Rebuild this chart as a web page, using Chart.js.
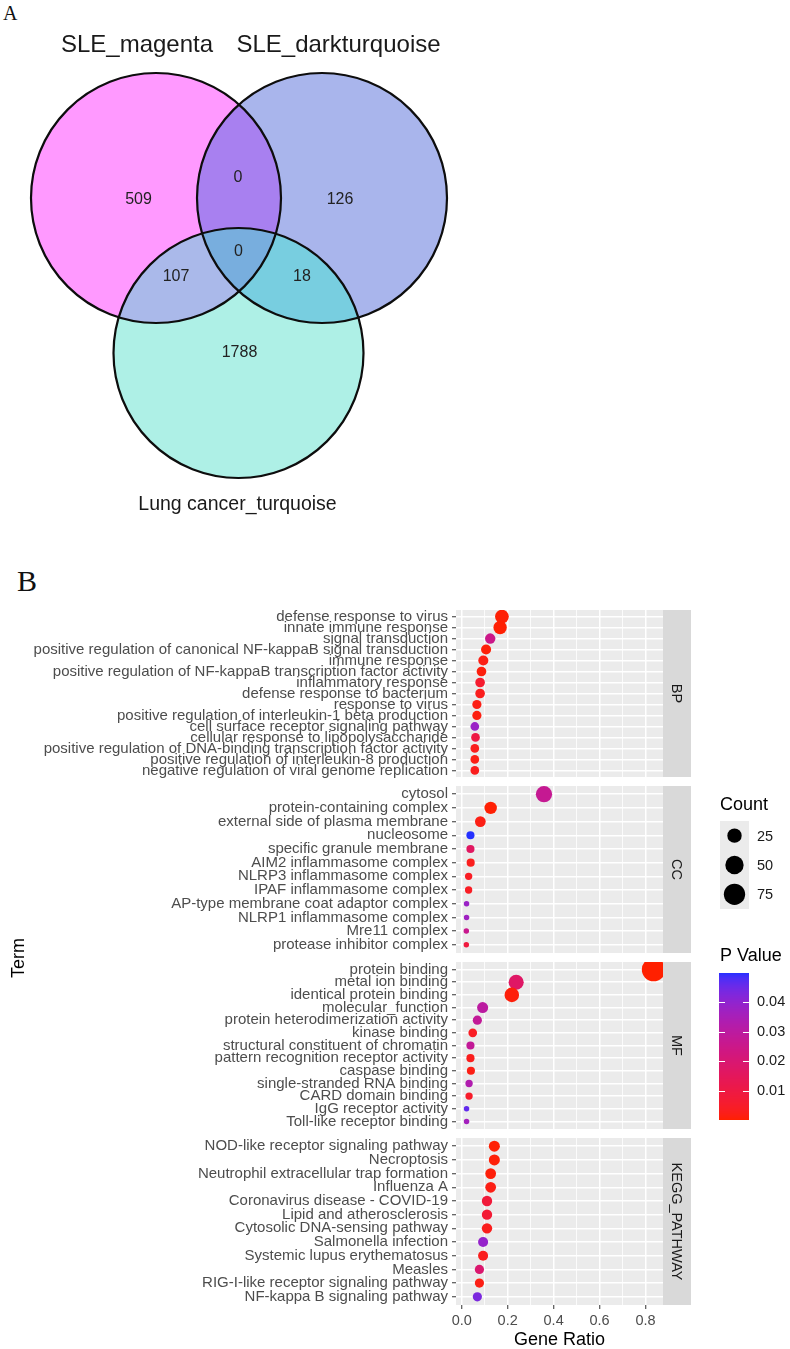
<!DOCTYPE html>
<html>
<head>
<meta charset="utf-8">
<script src="https://cdn.jsdelivr.net/npm/chart.js@4.4.1/dist/chart.umd.min.js"></script>
<style>
html, body { margin: 0; padding: 0; background: #fff; }
body { width: 790px; height: 1349px; position: relative; overflow: hidden; }
canvas { position: absolute; }
.tag { position: absolute; font-family: 'Liberation Serif', 'Times New Roman', serif; color: #111; line-height: 1; }
</style>
</head>
<body>
<div class="tag" style="left:3px; top:3px; font-size:20px;">A</div>
<div class="tag" style="left:17px; top:566px; font-size:30px;">B</div>
<canvas id="venn" width="480" height="530" style="left:0; top:0;"></canvas>
<canvas id="facetBP" width="700" height="207" style="left:0; top:590px;"></canvas>
<canvas id="facetCC" width="700" height="207" style="left:0; top:766px;"></canvas>
<canvas id="facetMF" width="700" height="207" style="left:0; top:942px;"></canvas>
<canvas id="facetKEGG" width="700" height="231" style="left:0; top:1118px;"></canvas>
<canvas id="guides" width="790" height="350" style="left:0; top:780px;"></canvas>
<script>
// ===== Panel A: Venn =====
const vennSets = ['SLE_magenta', 'SLE_darkturquoise', 'Lung cancer_turquoise'];
const vennRegions = ['magenta only', 'magenta & darkturquoise', 'darkturquoise only', 'all three',
                     'magenta & turquoise', 'darkturquoise & turquoise', 'turquoise only'];
const vennCounts = [509, 0, 126, 0, 107, 18, 1788];

// ===== Panel B: enrichment dot plot =====
const bpTerms = [
    'defense response to virus', 'innate immune response', 'signal transduction',
    'positive regulation of canonical NF-kappaB signal transduction', 'immune response',
    'positive regulation of NF-kappaB transcription factor activity', 'inflammatory response',
    'defense response to bacterium', 'response to virus',
    'positive regulation of interleukin-1 beta production', 'cell surface receptor signaling pathway',
    'cellular response to lipopolysaccharide',
    'positive regulation of DNA-binding transcription factor activity',
    'positive regulation of interleukin-8 production', 'negative regulation of viral genome replication'
];
const bpRatio = [0.175, 0.167, 0.124, 0.106, 0.094, 0.086, 0.080, 0.080, 0.066, 0.066, 0.057, 0.060, 0.057, 0.057, 0.057];
const bpCount = [22, 20, 9, 8, 8, 7, 7, 7, 6, 6, 5, 5, 5, 5, 5];
const bpPval = [0.0006, 0.0004, 0.025, 0.0008, 0.002, 0.0012, 0.006, 0.003, 0.002, 0.0015, 0.038, 0.010, 0.003, 0.002, 0.003];

const ccTerms = [
    'cytosol', 'protein-containing complex', 'external side of plasma membrane', 'nucleosome',
    'specific granule membrane', 'AIM2 inflammasome complex', 'NLRP3 inflammasome complex',
    'IPAF inflammasome complex', 'AP-type membrane coat adaptor complex', 'NLRP1 inflammasome complex',
    'Mre11 complex', 'protease inhibitor complex'
];
const ccRatio = [0.358, 0.126, 0.081, 0.038, 0.038, 0.039, 0.030, 0.030, 0.021, 0.021, 0.020, 0.020];
const ccCount = [36, 16, 10, 4, 4, 4, 3, 3, 2, 2, 2, 2];
const ccPval = [0.027, 0.0005, 0.002, 0.0497, 0.016, 0.003, 0.004, 0.004, 0.038, 0.037, 0.026, 0.009];

const mfTerms = [
    'protein binding', 'metal ion binding', 'identical protein binding', 'molecular_function',
    'protein heterodimerization activity', 'kinase binding', 'structural constituent of chromatin',
    'pattern recognition receptor activity', 'caspase binding', 'single-stranded RNA binding',
    'CARD domain binding', 'IgG receptor activity', 'Toll-like receptor binding'
];
const mfRatio = [0.835, 0.237, 0.218, 0.091, 0.068, 0.048, 0.038, 0.038, 0.040, 0.032, 0.032, 0.021, 0.021];
const mfCount = [97, 29, 26, 11, 6, 5, 4, 4, 4, 3, 3, 2, 2];
const mfPval = [0.0002, 0.017, 0.001, 0.030, 0.028, 0.004, 0.028, 0.003, 0.002, 0.033, 0.005, 0.046, 0.036];

const keggTerms = [
    'NOD-like receptor signaling pathway', 'Necroptosis', 'Neutrophil extracellular trap formation',
    'Influenza A', 'Coronavirus disease - COVID-19', 'Lipid and atherosclerosis',
    'Cytosolic DNA-sensing pathway', 'Salmonella infection', 'Systemic lupus erythematosus',
    'Measles', 'RIG-I-like receptor signaling pathway', 'NF-kappa B signaling pathway'
];
const keggRatio = [0.142, 0.142, 0.126, 0.126, 0.110, 0.110, 0.110, 0.093, 0.093, 0.077, 0.077, 0.068];
const keggCount = [11, 11, 10, 10, 9, 9, 9, 8, 8, 6, 6, 6];
const keggPval = [0.0005, 0.0008, 0.001, 0.002, 0.008, 0.007, 0.003, 0.039, 0.003, 0.019, 0.002, 0.043];

const ratioTicks = [0, 0.2, 0.4, 0.6, 0.8];
const countBreaks = [25, 50, 75];
const pBreaks = [0.01, 0.02, 0.03, 0.04];

// ===== styling / helpers =====
const SANS = "'Liberation Sans', Arial, Helvetica, sans-serif";
const X_MIN = -0.0249, X_MAX = 0.876;

const allP = [...bpPval, ...ccPval, ...mfPval, ...keggPval];
const allCount = [...bpCount, ...ccCount, ...mfCount, ...keggCount];
const pLow = Math.min(...allP), pHigh = Math.max(...allP);
const cLow = Math.min(...allCount);

function dotRadius(c) {
    return 2.75 + 0.925 * Math.sqrt(Math.max(c - cLow, 0));
}

// red -> blue gradient interpolated in CIELAB (like ggplot)
function toLin(c) { c /= 255; return c <= 0.04045 ? c / 12.92 : Math.pow((c + 0.055) / 1.055, 2.4); }
function fromLin(c) {
    const v = c <= 0.0031308 ? 12.92 * c : 1.055 * Math.pow(c, 1 / 2.4) - 0.055;
    return Math.round(Math.max(0, Math.min(1, v)) * 255);
}
function rgbToLab(rgb) {
    const [R, G, B] = rgb.map(toLin);
    const X = (0.4124 * R + 0.3576 * G + 0.1805 * B) / 0.95047;
    const Y = 0.2126 * R + 0.7152 * G + 0.0722 * B;
    const Z = (0.0193 * R + 0.1192 * G + 0.9505 * B) / 1.08883;
    const f = t => t > 0.008856 ? Math.cbrt(t) : 7.787 * t + 16 / 116;
    const fx = f(X), fy = f(Y), fz = f(Z);
    return [116 * fy - 16, 500 * (fx - fy), 200 * (fy - fz)];
}
function labToRgb([L, a, b]) {
    const fy = (L + 16) / 116, fx = a / 500 + fy, fz = fy - b / 200;
    const inv = t => t * t * t > 0.008856 ? t * t * t : (t - 16 / 116) / 7.787;
    const X = inv(fx) * 0.95047, Y = inv(fy), Z = inv(fz) * 1.08883;
    return [
        fromLin(3.2406 * X - 1.5372 * Y - 0.4986 * Z),
        fromLin(-0.9689 * X + 1.8758 * Y + 0.0415 * Z),
        fromLin(0.0557 * X - 0.2040 * Y + 1.0570 * Z)
    ];
}
const labLow = rgbToLab([255, 32, 0]);
const labHigh = rgbToLab([36, 48, 255]);
function pColor(p) {
    const t = Math.max(0, Math.min(1, (p - pLow) / (pHigh - pLow)));
    const [r, g, b] = labToRgb(labLow.map((v, i) => v + (labHigh[i] - v) * t));
    return `rgb(${r},${g},${b})`;
}
function isMajor(v) { return ratioTicks.some(t => Math.abs(t - v) < 1e-6); }

// minor grid at the midpoints of the major breaks
const xGridValues = [];
ratioTicks.forEach((t, i) => {
    xGridValues.push(t);
    if (i < ratioTicks.length - 1) xGridValues.push((t + ratioTicks[i + 1]) / 2);
});

// ===== plugins =====
const panelBg = {
    id: 'panelBg',
    beforeDraw(chart) {
        const { ctx, chartArea: a } = chart;
        ctx.save();
        ctx.fillStyle = '#ebebeb';
        ctx.fillRect(a.left, a.top, a.right - a.left, a.bottom - a.top);
        ctx.restore();
    }
};

const facetStrip = {
    id: 'facetStrip',
    afterDraw(chart, args, opts) {
        const { ctx, chartArea: a } = chart;
        ctx.save();
        ctx.fillStyle = '#d9d9d9';
        ctx.fillRect(a.right, a.top, 28, a.bottom - a.top);
        ctx.translate(a.right + 14, (a.top + a.bottom) / 2);
        ctx.rotate(Math.PI / 2);
        ctx.fillStyle = '#1a1a1a';
        ctx.font = '14.5px ' + SANS;
        ctx.textAlign = 'center';
        ctx.textBaseline = 'middle';
        ctx.fillText(opts.label, 0, 1);
        ctx.restore();
    }
};

function makeFacet(id, strip, terms, ratio, count, pval, bottom) {
    const n = terms.length;
    return new Chart(document.getElementById(id), {
        type: 'scatter',
        data: {
            datasets: [{
                data: terms.map((t, i) => ({ x: ratio[i], y: i })),
                pointRadius: count.map(dotRadius),
                pointBackgroundColor: pval.map(pColor),
                pointBorderWidth: 0,
                pointBorderColor: 'rgba(0,0,0,0)',
                clip: 0
            }]
        },
        options: {
            responsive: false,
            animation: false,
            events: [],
            layout: { padding: { top: 20, bottom: bottom ? 0 : 20, left: 0, right: 37 } },
            plugins: {
                legend: { display: false },
                tooltip: { enabled: false },
                facetStrip: { label: strip }
            },
            scales: {
                x: {
                    type: 'linear', min: X_MIN, max: X_MAX,
                    afterBuildTicks: s => { s.ticks = xGridValues.map(v => ({ value: v })); },
                    afterFit: s => { s.height = bottom ? 44 : 0; },
                    border: { display: false },
                    grid: {
                        color: '#ffffff',
                        lineWidth: c => isMajor(c.tick.value) ? 1.5 : 0.8,
                        drawTicks: bottom,
                        tickLength: 4,
                        tickWidth: 1,
                        tickColor: c => isMajor(c.tick.value) ? '#333333' : 'rgba(0,0,0,0)'
                    },
                    ticks: {
                        display: bottom, autoSkip: false, maxRotation: 0, padding: 3,
                        color: '#4d4d4d', font: { family: SANS, size: 14.5 },
                        callback: v => isMajor(v) ? v.toFixed(1) : ''
                    },
                    title: {
                        display: bottom, text: 'Gene Ratio', color: '#000',
                        font: { family: SANS, size: 18, lineHeight: 1 }, padding: 0
                    }
                },
                y: {
                    type: 'linear', reverse: true, min: -0.6, max: n - 0.4,
                    afterBuildTicks: s => { s.ticks = terms.map((t, i) => ({ value: i })); },
                    afterFit: s => { s.width = 456; },
                    border: { display: false },
                    grid: { color: '#ffffff', lineWidth: 1.5, drawTicks: true, tickLength: 4, tickWidth: 1, tickColor: '#333333' },
                    ticks: {
                        autoSkip: false, padding: 4, color: '#4d4d4d',
                        font: { family: SANS, size: 15 },
                        callback: v => terms[v]
                    }
                }
            }
        },
        plugins: [panelBg, facetStrip]
    });
}

makeFacet('facetBP', 'BP', bpTerms, bpRatio, bpCount, bpPval, false);
makeFacet('facetCC', 'CC', ccTerms, ccRatio, ccCount, ccPval, false);
makeFacet('facetMF', 'MF', mfTerms, mfRatio, mfCount, mfPval, false);
makeFacet('facetKEGG', 'KEGG_PATHWAY', keggTerms, keggRatio, keggCount, keggPval, true);

// ===== legends + y title (colour bar uses the chart's own y scale) =====
const guidePlugin = {
    id: 'guides',
    beforeDraw(chart) {
        const { ctx, chartArea: a, scales: { y } } = chart;
        ctx.save();
        // colour bar
        for (let py = Math.floor(a.top); py < a.bottom; py++) {
            ctx.fillStyle = pColor(y.getValueForPixel(py + 0.5));
            ctx.fillRect(a.left, py, a.right - a.left, 1);
        }
        ctx.strokeStyle = '#ffffff';
        ctx.lineWidth = 1;
        pBreaks.forEach(v => {
            const py = Math.round(y.getPixelForValue(v)) + 0.5;
            ctx.beginPath();
            ctx.moveTo(a.left, py); ctx.lineTo(a.left + 6, py);
            ctx.moveTo(a.right - 6, py); ctx.lineTo(a.right, py);
            ctx.stroke();
        });

        ctx.fillStyle = '#000';
        ctx.font = '18px ' + SANS;
        ctx.textAlign = 'left';
        ctx.textBaseline = 'middle';
        ctx.fillText('P Value', 720, 176);
        ctx.fillText('Count', 720, 25);

        // size keys
        ctx.fillStyle = '#ebebeb';
        ctx.fillRect(720, 41, 29, 88);
        countBreaks.forEach((c, i) => {
            const cy = 41 + 29.33 * (i + 0.5);
            ctx.fillStyle = '#000';
            ctx.beginPath();
            ctx.arc(734.5, cy, dotRadius(c), 0, Math.PI * 2);
            ctx.fill();
            ctx.fillStyle = '#1a1a1a';
            ctx.font = '14.5px ' + SANS;
            ctx.fillText(String(c), 757, cy + 1);
        });

        // shared y title
        ctx.translate(19, 178);
        ctx.rotate(-Math.PI / 2);
        ctx.textAlign = 'center';
        ctx.fillStyle = '#000';
        ctx.font = '18px ' + SANS;
        ctx.fillText('Term', 0, 0);
        ctx.restore();
    }
};

new Chart(document.getElementById('guides'), {
    type: 'scatter',
    data: { datasets: [] },
    options: {
        responsive: false,
        animation: false,
        events: [],
        layout: { padding: { left: 719, top: 193, bottom: 10, right: 0 } },
        plugins: { legend: { display: false }, tooltip: { enabled: false } },
        scales: {
            x: { display: false, min: 0, max: 1 },
            y: {
                position: 'right', min: pLow, max: pHigh,
                afterBuildTicks: s => { s.ticks = pBreaks.map(v => ({ value: v })); },
                afterFit: s => { s.width = 41; },
                border: { display: false },
                // invisible tick marks give the 8px gap; label padding 0 keeps the bar full height
                grid: { display: true, color: 'rgba(0,0,0,0)', drawTicks: true, tickLength: 8, tickColor: 'rgba(0,0,0,0)' },
                ticks: { padding: 0, color: '#1a1a1a', font: { family: SANS, size: 14.5 }, callback: v => v.toFixed(2) }
            }
        }
    },
    plugins: [guidePlugin]
});

// ===== Venn =====
const vennCircles = [
    { cx: 156, cy: 198, r: 125 },
    { cx: 322, cy: 198, r: 125 },
    { cx: 238.5, cy: 353, r: 125 }
];
const vennFill = { a: '#ff99ff', b: '#a9b5ec', c: '#aef0e6', ab: '#a880f0', ac: '#aab9ea', bc: '#78cee0', abc: '#78aede' };
const vennCountPos = [[138.5, 200], [238, 178], [340, 200], [238.5, 252], [176, 277], [302, 277], [239.5, 353]];
const vennNamePos = [[137, 45, 24], [338.5, 45, 24], [237.5, 505, 19.5]];

const vennPlugin = {
    id: 'venn',
    afterDraw(chart) {
        const { ctx, scales: { x, y } } = chart;
        const shapes = vennCircles.map(c => {
            const px = x.getPixelForValue(c.cx), py = y.getPixelForValue(c.cy);
            const pr = x.getPixelForValue(c.cx + c.r) - px;
            const p = new Path2D();
            p.arc(px, py, pr, 0, Math.PI * 2);
            return p;
        });
        const [A, B, C] = shapes;
        const fill = (clips, shape, color) => {
            ctx.save();
            clips.forEach(p => ctx.clip(p));
            ctx.fillStyle = color;
            ctx.fill(shape);
            ctx.restore();
        };
        fill([], A, vennFill.a);
        fill([], B, vennFill.b);
        fill([], C, vennFill.c);
        fill([A], B, vennFill.ab);
        fill([A], C, vennFill.ac);
        fill([B], C, vennFill.bc);
        fill([A, B], C, vennFill.abc);

        ctx.save();
        ctx.lineWidth = 2.2;
        ctx.strokeStyle = '#0d0d0d';
        shapes.forEach(p => ctx.stroke(p));

        ctx.textAlign = 'center';
        ctx.textBaseline = 'middle';
        ctx.fillStyle = '#222';
        ctx.font = '16px ' + SANS;
        vennCounts.forEach((v, i) => {
            const [vx, vy] = vennCountPos[i];
            ctx.fillText(String(v), x.getPixelForValue(vx), y.getPixelForValue(vy));
        });
        ctx.fillStyle = '#1a1a1a';
        vennSets.forEach((s, i) => {
            const [vx, vy, size] = vennNamePos[i];
            ctx.font = size + 'px ' + SANS;
            ctx.fillText(s, x.getPixelForValue(vx), y.getPixelForValue(vy));
        });
        ctx.restore();
    }
};

new Chart(document.getElementById('venn'), {
    type: 'scatter',
    data: { datasets: [] },
    options: {
        responsive: false,
        animation: false,
        events: [],
        layout: { padding: 0 },
        plugins: { legend: { display: false }, tooltip: { enabled: false } },
        scales: {
            x: { display: false, min: 0, max: 480 },
            y: { display: false, min: 0, max: 530, reverse: true }
        }
    },
    plugins: [vennPlugin]
});
</script>
</body>
</html>
